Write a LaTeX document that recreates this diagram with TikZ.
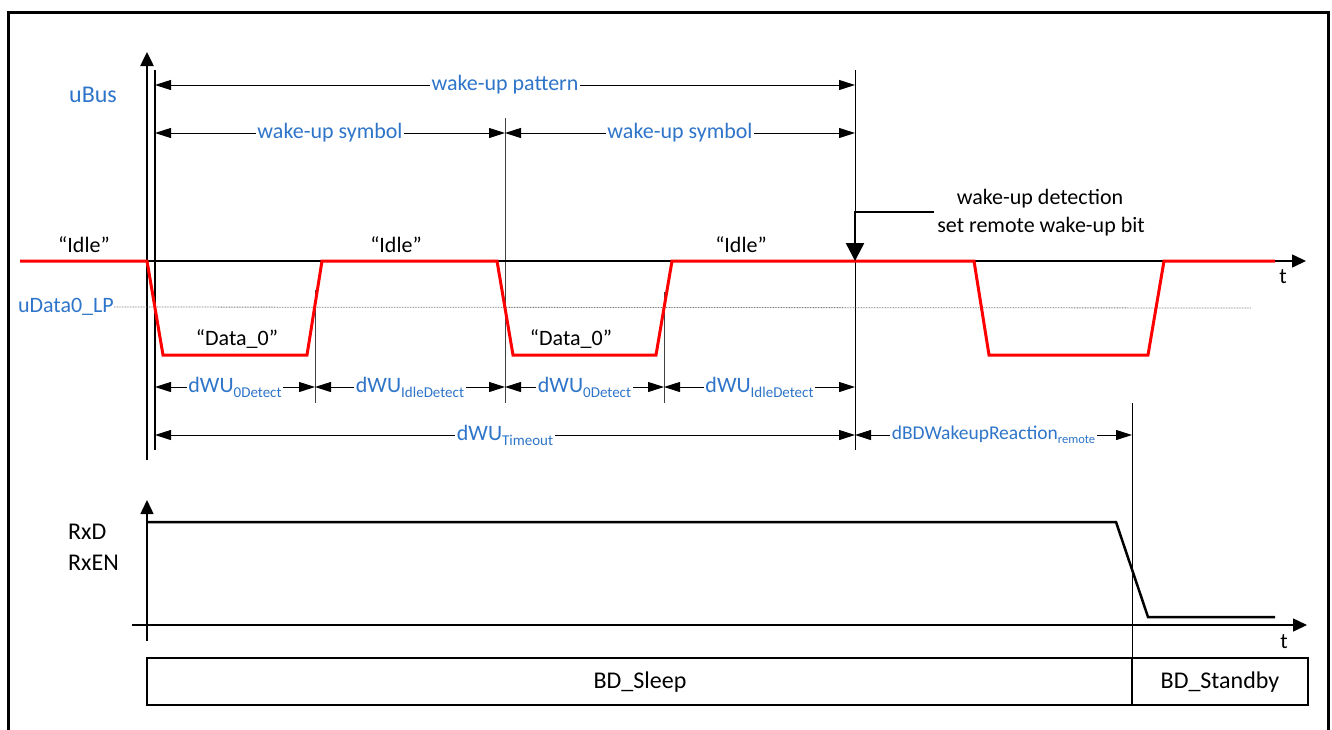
\documentclass[tikz,border=0pt]{standalone}
\usepackage{fontspec}
\setmainfont{Carlito}
\usetikzlibrary{arrows.meta}
\definecolor{lblue}{RGB}{46,117,201}
\definecolor{sred}{RGB}{255,0,0}
\newcommand{\fs}[1]{\fontsize{#1}{#1}\selectfont}
\newcommand{\sbx}[2][15]{\raisebox{-0.22em}{\fontsize{#1}{#1}\selectfont #2}}
\begin{document}
\begin{tikzpicture}[x=1pt,y=-1pt,
  dim/.style={line width=1pt,{Triangle[length=16pt,width=10pt]}-{Triangle[length=16pt,width=10pt]}},
  dimlbl/.style={fill=white,text=lblue,font=\fs{22},inner sep=1.5pt},
  dimlblsm/.style={fill=white,text=lblue,font=\fs{19.5},inner sep=1.5pt},
  blbl/.style={text=lblue,font=\fs{22},inner sep=0pt},
  klbl/.style={text=black,font=\fs{22},inner sep=0pt},
  biglbl/.style={text=black,font=\fs{24},inner sep=0pt},
  sig/.style={draw=sred,line width=3pt,line join=miter},
  axisline/.style={line width=1.5pt},
  thickax/.style={line width=2.5pt,-{Triangle[length=14pt,width=13pt]}},
  marker/.style={line width=1pt,black!75},
]
\useasboundingbox (0,0) rectangle (1332,729);
% frame
\draw[line width=3pt] (8,745) -- (8,12) -- (1328,12) -- (1328,745);

% named coordinates
\coordinate (uAxB) at (147,460);
\coordinate (uAxT) at (147,52);
\coordinate (tAxL) at (148,261);
\coordinate (tAxR) at (1306,261);

% marker lines
\draw[line width=1.2pt] (155,70) -- (155,450);
\draw[marker] (315,290) -- (315,403);
\draw[marker] (505,118) -- (505,403);
\draw[marker] (664,292) -- (664,403);
\draw[line width=1pt] (855,70) -- (855,450);
\draw[line width=1pt] (1132,403) -- (1132,705);

% uBus axis
\draw[thickax] (uAxB) -- (uAxT);
\node[blbl,font=\fs{24}] (ubus) at (93,95) {uBus};

% threshold line
\node[blbl,anchor=east] (udata) at (114,307) {uData0\_LP};
\draw[black!55,line width=0.8pt,dash pattern=on 0.8pt off 0.8pt] (udata.east) -- (1251,308);

% time axis
\draw[axisline,-{Triangle[length=14pt,width=13pt]}] (tAxL) -- (tAxR);
\node[klbl] (t1) at (1283,277) {t};

% bus signal
\draw[sig] (20,261) -- (147,261) -- (163,355) -- (307,355) -- (322,261) -- (497,261) -- (513,355) -- (656,355) -- (672,261) -- (974,261) -- (989,355) -- (1148,355) -- (1164,261) -- (1275,261);

% state labels
\node[klbl] (idle1) at (84,245) {“Idle”};
\node[klbl] (idle2) at (396,245) {“Idle”};
\node[klbl] (idle3) at (741,245) {“Idle”};
\node[klbl] (data1) at (237,339) {“Data\_0”};
\node[klbl] (data2) at (571,339) {“Data\_0”};

% dimension arrows
\draw[dim] (155,85) -- node[dimlbl] (pat) {wake-up pattern} (855,85);
\draw[dim] (155,133) -- node[dimlbl] (sym1) {wake-up symbol} (505,133);
\draw[dim] (505,133) -- node[dimlbl] (sym2) {wake-up symbol} (855,133);
\draw[dim] (155,387) -- node[dimlbl] (d0a) {dWU\sbx{0Detect}} (315,387);
\draw[dim] (315,387) -- node[dimlbl] (dia) {dWU\sbx{IdleDetect}} (505,387);
\draw[dim] (505,387) -- node[dimlbl] (d0b) {dWU\sbx{0Detect}} (664,387);
\draw[dim] (664,387) -- node[dimlbl] (dib) {dWU\sbx{IdleDetect}} (855,387);
\draw[dim] (155,435) -- node[dimlbl] (dto) {dWU\sbx{Timeout}} (855,435);
\draw[dim] (855,435) -- node[dimlblsm] (dbd) {dBDWakeupReaction\sbx[12.5]{remote}} (1132,435);

% wake-up detection
\coordinate (wdA) at (934,212);
\coordinate (wdC) at (855,212);
\coordinate (wdT) at (855,261);
\draw[line width=2.5pt,-{Triangle[length=18pt,width=18pt]}] (wdA) -- (wdC) -- (wdT);
\node[klbl] (wd1) at (1040,199) {wake-up detection};
\node[klbl] (wd2) at (1041,227) {set remote wake-up bit};

% RxD panel
\draw[thickax,line width=1.5pt] (147,641) -- (147,500);
\draw[axisline,-{Triangle[length=14pt,width=13pt]}] (132,625) -- (1307,625);
\node[klbl] (t2) at (1284,642) {t};
\draw[line width=2.5pt,line join=miter] (148,522) -- (1116,522) -- (1148,617) -- (1275,617);
\node[biglbl,anchor=west] (rxd) at (68,532) {RxD};
\node[biglbl,anchor=west] (rxen) at (68,563) {RxEN};

% state boxes
\draw[line width=2pt] (147,658) rectangle (1308,705);
\draw[line width=2pt] (1132,658) -- (1132,705);
\node[biglbl] (sleep) at (640,682) {BD\_Sleep};
\node[biglbl] (stby) at (1220,682) {BD\_Standby};
\end{tikzpicture}
\end{document}
